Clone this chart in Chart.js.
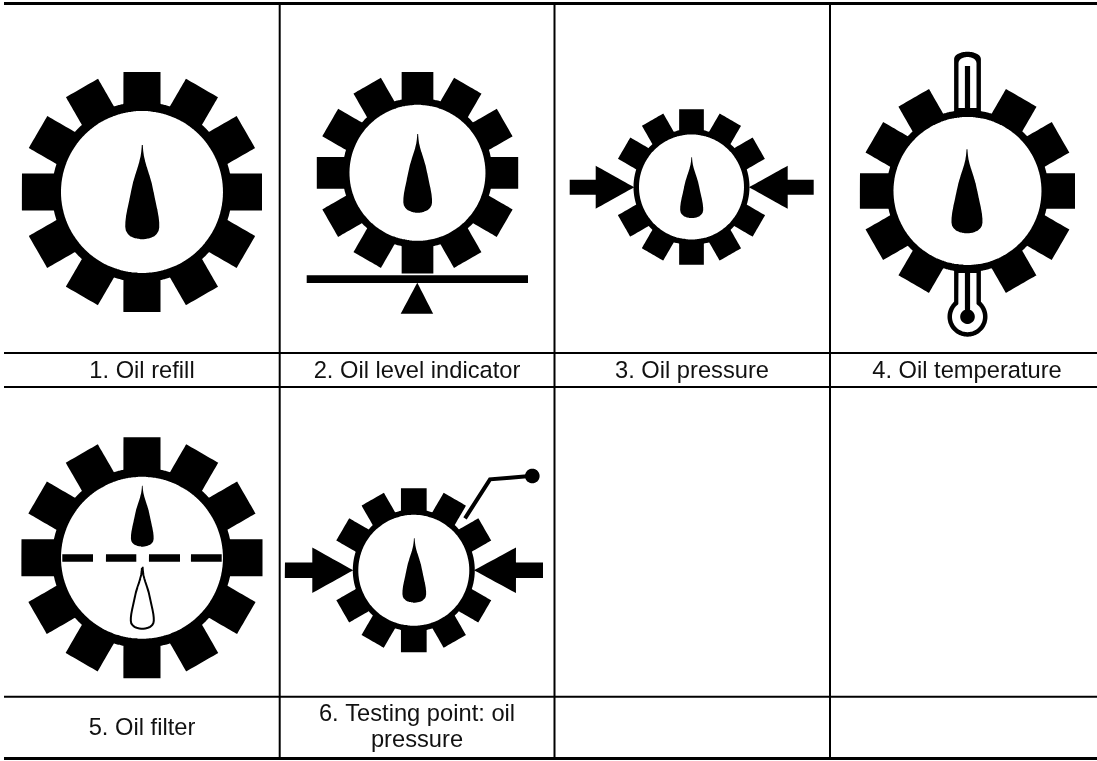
<!DOCTYPE html>
<html><head><meta charset="utf-8">
<script src="https://cdn.jsdelivr.net/npm/chart.js@4"></script>
<style>html,body{margin:0;padding:0;background:#fff}#w{width:1097px;height:761px;position:relative}</style>
</head><body><div id="w"><canvas id="c"></canvas></div>
<script>
// cell captions: text lines, centre x, first-line baseline y
const captions = [
  ["1. Oil refill"], ["2. Oil level indicator"], ["3. Oil pressure"], ["4. Oil temperature"],
  ["5. Oil filter"], ["6. Testing point: oil", "pressure"]
];
const captionX = [142, 417, 692, 967, 142, 417];
const captionY = [377.5, 377.5, 377.5, 377.5, 735, 720.5];
const captionLeading = 26.5;

// table rules as [x1,y1,x2,y2,weight]
const rules = [
  [4,3.5,1097,3.5,3],[4,353,1097,353,2],[4,387,1097,387,2],[4,696.7,1097,696.7,2],[4,758.5,1097,758.5,3],
  [279.7,3.5,279.7,758,2],[554.5,3.5,554.5,758,2],[830,3.5,830,758,2]
];

// gears: centre, tooth tip radius, body radius, bore radius, tooth width, tooth bearings
const gearX = [142, 417.5, 691.5, 967.5, 142, 413.8];
const gearY = [192, 172.8, 187, 191, 557.8, 570.3];
const gearTip = [120, 100.7, 77.8, 107.5, 120.5, 82];
const gearBody = [90, 75, 58, 81, 90, 61];
const gearBore = [81, 68, 52.5, 74, 81, 55.5];
const gearToothW = [37, 31.7, 24.7, 35.3, 37, 25.7];
const allTeeth = [0,30,60,90,120,150,180,210,240,270,300,330];
const gearTeeth = [
  allTeeth, allTeeth,
  [0,30,60,120,150,180,210,240,300,330],
  [30,60,90,120,150,210,240,270,300,330],
  allTeeth,
  [0,30,60,120,150,180,210,240,300,330]
];

// teardrops: tip x, tip y, height, width, hollow?
const dropX = [142.3, 417.7, 691.7, 967, 142.3, 142.3, 414.3];
const dropY = [145, 134, 157.3, 149.3, 485.7, 567.7, 538.3];
const dropH = [94.3, 78.7, 60.7, 84, 61, 61, 64.4];
const dropW = [34, 28.7, 23, 31, 22.7, 23, 23.7];
const dropHollow = [false,false,false,false,false,true,false];
const dropProfileT = [0,.03,.07,.12,.18,.23,.32,.4,.5,.58,.68,.76,.82,.87,.91,.94,.97,.99,1];
const dropProfileW = [.03,.04,.06,.10,.18,.26,.42,.55,.67,.76,.88,.96,.995,1,.96,.86,.68,.42,.1];

// arrows: tail x, neck x, tip x, axis y, shaft half-height, head half-height
const arrowTail = [569.7, 813.7, 285, 543];
const arrowNeck = [595.7, 787.7, 312.3, 516];
const arrowTip = [634.3, 749, 353.3, 474];
const arrowY = [187.3, 187.3, 570.3, 570.3];
const arrowShaft = [7.5, 7.5, 7.8, 7.8];
const arrowHead = [21.5, 21.5, 22.8, 22.8];

// level indicator
const barX = [306.7, 528], barY = [275.3, 283];
const wedgeX = [417.3, 433.3, 400.7], wedgeY = [282.7, 313.7, 313.7];

// filter dashes
const dashStart = [62.3, 106, 149, 191], dashEnd = [93, 136.3, 180, 221.7], dashY = [554.3, 561.7];

// test point lever and knob
const leverX = [465, 490, 530], leverY = [518.3, 479.3, 476];
const knob = [532.3, 476, 7.3];

// thermometer
const thermoX = 967.5;
const thermoTop = [51.7, 57, 66, 108];
const thermoBottom = [270, 273, 316.7];
const thermoHalf = [13.4, 9, 2.6];
const bulb = [20, 15.5, 7.3];

const datasets = [];
const add = (pts, fillC, border, bw) => datasets.push({
  data: pts.map(p => ({x:p[0], y:p[1]})),
  fill: fillC ? 'shape' : false, backgroundColor: fillC || 'transparent',
  borderColor: border || 'transparent', borderWidth: bw || 0,
  tension: 1e-5, // keeps every vertex (the zero-tension fast path merges points per pixel column)
  pointRadius: 0,
  borderCapStyle: 'butt', borderJoinStyle: 'miter', order: -datasets.length
});
const rad = d => d * Math.PI / 180;
const disc = (cx, cy, r, c) => {
  const p = [];
  for (let a = 0; a <= 360; a += 3) p.push([cx + r*Math.cos(rad(a)), cy + r*Math.sin(rad(a))]);
  add(p, c);
};
const rect = (x0,y0,x1,y1,c) => add([[x0,y0],[x1,y0],[x1,y1],[x0,y1],[x0,y0]], c);

// gears
gearX.forEach((cx,i) => {
  const cy = gearY[i], hw = gearToothW[i]/2, inner = gearBody[i]-6;
  gearTeeth[i].forEach(b => {
    const s = Math.sin(rad(b)), c = -Math.cos(rad(b));   // outward unit vector
    const tx = -c, ty = s;                                // tangent
    const q = (r,t) => [cx + s*r + tx*t, cy + c*r + ty*t];
    add([q(inner,-hw), q(gearTip[i],-hw), q(gearTip[i],hw), q(inner,hw), q(inner,-hw)], '#000');
  });
});
// thermometer (below bore)
{
  const [ot, wt, st, sb] = thermoTop, [oh, wh, sh] = thermoHalf, x = thermoX;
  const cap = (yTop, yBase, h) => {
    const pts = [[x-h, 118]];
    pts.push([x-h, yBase+3]);
    for (let a = 180; a <= 360; a += 15) pts.push([x + h*Math.cos(rad(a)), yBase+3 + (yBase+3-yTop)*Math.sin(rad(a))]);
    pts.push([x+h, 118]); pts.push([x-h, 118]);
    return pts;
  };
  add(cap(ot, ot+4, oh), '#000');
  const cw = cap(wt, wt+3, wh).map(p => [p[0], Math.min(p[1], sb)]);
  add(cw, '#fff');
  rect(x-sh, st, x+sh, sb+4, '#000');
  rect(x-oh, 262, x+oh, 305, '#000');
  disc(x, thermoBottom[2], bulb[0], '#000');
  rect(x-wh, thermoBottom[1], x+wh, 305, '#fff');
  disc(x, thermoBottom[2], bulb[1], '#fff');
  rect(x-sh, thermoBottom[0], x+sh, thermoBottom[2], '#000');
  disc(x, thermoBottom[2], bulb[2], '#000');
}
// bodies and bores
gearX.forEach((cx,i) => { disc(cx, gearY[i], gearBody[i], '#000'); disc(cx, gearY[i], gearBore[i], '#fff'); });
// teardrops
dropX.forEach((x,i) => {
  const l = [], r = [];
  dropProfileT.forEach((t,k) => {
    const y = dropY[i] + dropH[i]*t, w = dropW[i]/2*dropProfileW[k];
    l.push([x-w,y]); r.unshift([x+w,y]);
  });
  const pts = l.concat(r); pts.push(pts[0]);
  if (dropHollow[i]) add(pts, '#fff', '#000', 2); else add(pts, '#000');
});
// arrows
arrowTail.forEach((t,i) => {
  const y = arrowY[i], s = arrowShaft[i], h = arrowHead[i], n = arrowNeck[i];
  add([[t,y-s],[n,y-s],[n,y-h],[arrowTip[i],y],[n,y+h],[n,y+s],[t,y+s],[t,y-s]], '#000');
});
// level
rect(barX[0], barY[0], barX[1], barY[1], '#000');
add(wedgeX.map((x,i)=>[x,wedgeY[i]]).concat([[wedgeX[0],wedgeY[0]]]), '#000');
// dashes
dashStart.forEach((x,i) => rect(x, dashY[0], dashEnd[i], dashY[1], '#000'));
// lever
add(leverX.map((x,i)=>[x,leverY[i]]), null, '#000', 4);
disc(knob[0], knob[1], knob[2], '#000');
// rules
rules.forEach(r => add([[r[0],r[1]],[r[2],r[3]]], null, '#000', r[4]));

const captionPlugin = { id:'captions', afterDraw(ch) {
  const {ctx, scales:{x,y}} = ch;
  ctx.save(); ctx.fillStyle='#111'; ctx.font='23.7px "Liberation Sans", Arial, sans-serif';
  ctx.textAlign='center'; ctx.textBaseline='alphabetic';
  captions.forEach((lines,i) => lines.forEach((t,k) =>
    ctx.fillText(t, x.getPixelForValue(captionX[i]), y.getPixelForValue(captionY[i] + k*captionLeading))));
  ctx.restore();
}};

new Chart(document.getElementById('c'), {
  type:'line',
  data:{datasets},
  plugins:[captionPlugin],
  options:{
    responsive:true, maintainAspectRatio:false, animation:false, parsing:false, normalized:false,
    layout:{padding:0}, events:[],
    plugins:{legend:{display:false},tooltip:{enabled:false},title:{display:false}},
    scales:{
      x:{type:'linear',min:0,max:1097,display:false},
      y:{type:'linear',min:0,max:761,reverse:true,display:false}
    }
  }
});
</script></body></html>
